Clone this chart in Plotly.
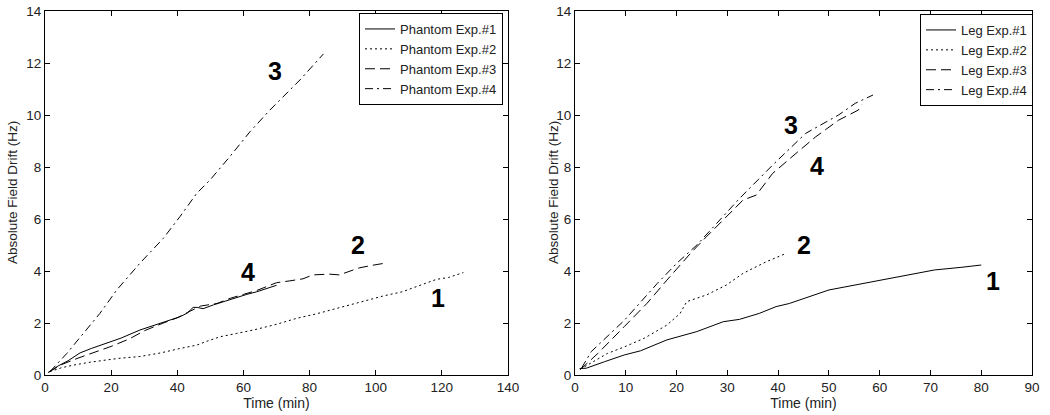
import plotly.graph_objects as go

# ---------------- data: left panel (Phantom) ----------------
ph1_x = [1, 4, 7, 10.6, 14, 18.7, 23, 28.7, 33.8, 37, 40.8, 43, 44.8, 46, 47.8, 51, 53.9, 58, 61, 64, 67, 70]
ph1_y = [0.1, 0.35, 0.55, 0.85, 1.02, 1.22, 1.42, 1.73, 1.95, 2.1, 2.24, 2.38, 2.6, 2.6, 2.55, 2.7, 2.82, 2.98, 3.1, 3.2, 3.33, 3.45]

ph2_x = [1.5, 5, 8.6, 13, 18.7, 23, 28.7, 35, 40.8, 45.9, 49, 52.9, 58, 63, 70, 76.1, 82, 88.2, 95, 102.3, 108, 112.4, 118.4, 122, 126.5]
ph2_y = [0.13, 0.28, 0.38, 0.48, 0.58, 0.65, 0.71, 0.85, 1.02, 1.15, 1.3, 1.47, 1.6, 1.73, 1.95, 2.18, 2.35, 2.56, 2.8, 3.04, 3.2, 3.4, 3.68, 3.75, 3.94]

ph3_x = [1, 5, 10, 15.6, 20, 25.7, 30, 35.8, 40, 43, 47, 52, 56, 60, 64, 67, 70, 74, 78, 81, 84, 86, 89, 92, 95, 99, 102.3]
ph3_y = [0.1, 0.4, 0.65, 0.9, 1.1, 1.4, 1.7, 2.0, 2.2, 2.4, 2.65, 2.75, 2.95, 3.1, 3.25, 3.4, 3.55, 3.62, 3.7, 3.85, 3.88, 3.88, 3.85, 4.0, 4.12, 4.22, 4.29]

ph4_x = [1.5, 6.6, 11.6, 16.6, 21.7, 28.7, 35.8, 40.8, 45.9, 49.9, 55.9, 62, 68, 77.1, 84.2]
ph4_y = [0.13, 0.83, 1.6, 2.37, 3.27, 4.3, 5.26, 6.09, 6.99, 7.5, 8.4, 9.36, 10.19, 11.35, 12.35]

# ---------------- data: right panel (Leg) ----------------
lg1_x = [0.9, 2.2, 5.8, 9.7, 12.9, 18.1, 24, 29.2, 32.4, 36.3, 39.6, 42.2, 50, 55.2, 60.4, 65.6, 70.8, 76, 80]
lg1_y = [0.25, 0.26, 0.51, 0.77, 0.93, 1.35, 1.67, 2.05, 2.14, 2.37, 2.63, 2.75, 3.27, 3.46, 3.65, 3.85, 4.04, 4.14, 4.23]

lg2_x = [1.9, 6.4, 9.7, 13.6, 18.1, 20.7, 22, 25.9, 29.8, 33.1, 37.6, 41.5]
lg2_y = [0.32, 0.83, 1.08, 1.41, 1.92, 2.37, 2.82, 3.08, 3.46, 3.91, 4.35, 4.67]

lg3_x = [1, 4.5, 9.7, 14.2, 18.1, 22.7, 25.9, 29.8, 33.1, 35.7, 38.9, 43.5, 47.4, 51.9, 55.8, 56.5]
lg3_y = [0.2, 0.83, 1.86, 2.76, 3.65, 4.67, 5.32, 6.09, 6.73, 6.92, 7.75, 8.52, 9.16, 9.8, 10.19, 10.4]

lg4_x = [1.3, 3.2, 9.7, 16.2, 20, 24, 27.9, 32.4, 38.9, 45.4, 51.9, 55.2, 58.7]
lg4_y = [0.27, 0.9, 2.1, 3.52, 4.29, 5.0, 5.83, 6.79, 8.07, 9.29, 10.0, 10.45, 10.77]

left_names = ["Phantom Exp.#1", "Phantom Exp.#2", "Phantom Exp.#3", "Phantom Exp.#4"]
right_names = ["Leg Exp.#1", "Leg Exp.#2", "Leg Exp.#3", "Leg Exp.#4"]

left_labels = ["3", "2", "4", "1"]
left_label_x = [69.6, 94.7, 61.4, 118.8]
left_label_y = [11.7, 5.0, 3.96, 2.96]

right_labels = ["3", "4", "2", "1"]
right_label_x = [42.5, 47.6, 45.0, 82.3]
right_label_y = [9.6, 8.04, 5.0, 3.6]

dashes = ["solid", "2px,3px", "10px,5px", "8px,4px,2px,4px"]

FONT = "Liberation Sans, Arial, sans-serif"

fig = go.Figure()

left_series = [(ph1_x, ph1_y), (ph2_x, ph2_y), (ph3_x, ph3_y), (ph4_x, ph4_y)]
right_series = [(lg1_x, lg1_y), (lg2_x, lg2_y), (lg3_x, lg3_y), (lg4_x, lg4_y)]

for (xs, ys), nm, d in zip(left_series, left_names, dashes):
    fig.add_trace(go.Scatter(x=xs, y=ys, mode="lines", name=nm,
                             line=dict(color="black", width=1, dash=d),
                             xaxis="x", yaxis="y", legend="legend"))
for (xs, ys), nm, d in zip(right_series, right_names, dashes):
    fig.add_trace(go.Scatter(x=xs, y=ys, mode="lines", name=nm,
                             line=dict(color="black", width=1, dash=d),
                             xaxis="x2", yaxis="y2", legend="legend2"))

annotations = []
for t, ax_, ay_ in zip(left_labels, left_label_x, left_label_y):
    annotations.append(dict(x=ax_, y=ay_, xref="x", yref="y", text="<b>%s</b>" % t,
                            showarrow=False, font=dict(size=25, color="black", family=FONT)))
for t, ax_, ay_ in zip(right_labels, right_label_x, right_label_y):
    annotations.append(dict(x=ax_, y=ay_, xref="x2", yref="y2", text="<b>%s</b>" % t,
                            showarrow=False, font=dict(size=25, color="black", family=FONT)))

# y-axis titles as annotations for precise placement
for xp in [12 / 1050, 553 / 1050]:
    annotations.append(dict(x=xp, y=(415 - 193) / 415, xref="paper", yref="paper",
                            text="Absolute Field Drift (Hz)", textangle=-90, showarrow=False,
                            xanchor="center", yanchor="middle",
                            font=dict(size=13.5, color="#222", family=FONT)))

axis_common = dict(showgrid=False, zeroline=False, showline=True, linecolor="black",
                   linewidth=1, mirror="ticks", ticks="inside", ticklen=5, automargin=False,
                   tickcolor="black", tickfont=dict(size=13.5, color="#222", family=FONT))

legend_font = dict(size=13, family=FONT, color="#222")

fig.update_layout(
    width=1050, height=415,
    margin=dict(l=0, r=0, t=0, b=0, autoexpand=False),
    paper_bgcolor="white", plot_bgcolor="white",
    font=dict(family=FONT, color="#222"),
    xaxis=dict(domain=[45 / 1050, 508 / 1050], range=[0, 140], tickvals=list(range(0, 141, 20)),
               anchor="y", title=dict(text="Time (min)", font=dict(size=14, family=FONT, color="#222"), standoff=2),
               **axis_common),
    yaxis=dict(domain=[40 / 415, 404 / 415], range=[0, 14], tickvals=list(range(0, 15, 2)),
               anchor="x", **axis_common),
    xaxis2=dict(domain=[575 / 1050, 1032 / 1050], range=[0, 90], tickvals=list(range(0, 91, 10)),
                anchor="y2", title=dict(text="Time (min)", font=dict(size=14, family=FONT, color="#222"), standoff=2),
                **axis_common),
    yaxis2=dict(domain=[40 / 415, 404 / 415], range=[0, 14], tickvals=list(range(0, 15, 2)),
                anchor="x2", **axis_common),
    legend=dict(x=503 / 1050, y=1 - 13 / 415, xanchor="right", yanchor="top",
                bgcolor="white", bordercolor="black", borderwidth=1,
                font=legend_font, tracegroupgap=0, itemwidth=30),
    legend2=dict(x=1033 / 1050, y=1 - 14 / 415, xanchor="right", yanchor="top",
                 bgcolor="white", bordercolor="black", borderwidth=1,
                 font=legend_font, tracegroupgap=0, itemwidth=30),
    annotations=annotations,
    showlegend=True,
)

fig.write_html("out.html", config={"displayModeBar": False},
               post_script="document.body.style.margin='0px';document.body.style.overflow='hidden';")
